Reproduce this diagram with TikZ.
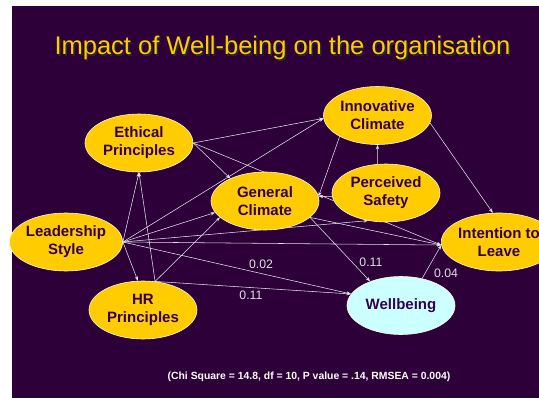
\documentclass[tikz,border=0pt]{standalone}
\usepackage{fontspec}
\setmainfont{Liberation Sans}
\usetikzlibrary{shapes.geometric,arrows.meta}
\definecolor{plum}{RGB}{45,0,58}
\definecolor{gold}{RGB}{255,204,0}
\definecolor{ink}{RGB}{51,0,85}
\definecolor{ice}{RGB}{204,255,255}
\definecolor{wire}{RGB}{225,225,232}
\pgfdeclarelayer{back}
\pgfdeclarelayer{lines}
\pgfsetlayers{back,lines,main}
\begin{document}
\begin{tikzpicture}[x=1pt,y=-1pt,
  factor/.style={ellipse, fill=gold, draw=white!85!gold, line width=0.6pt,
    minimum width=108pt, minimum height=58pt, inner sep=0pt, align=center,
    font=\fontsize{15}{18}\selectfont\bfseries, text=ink},
  outcome/.style={factor, fill=ice},
  link/.style={draw=wire, line width=0.55pt, -{Stealth[length=4.5pt,width=3.2pt]}},
  coef/.style={font=\fontsize{12.3}{14}\selectfont, text=white!88!black, inner sep=0pt},
  heading/.style={font=\fontsize{25.5}{30}\selectfont, anchor=base, inner sep=0pt}]

\useasboundingbox (0,0) rectangle (539,398);
\clip (0,0) rectangle (539,398);

\begin{pgfonlayer}{back}
  \fill[white] (0,0) rectangle (539,398);
  \fill[plum] (12,6) rectangle (539,398);
\end{pgfonlayer}

% title with its drop shadow
\node[heading, text=black!85] (titleshadow) at (284,56.5) {Impact of Well-being on the organisation};
\node[heading, text=gold] (title) at (282.5,55) {Impact of Well-being on the organisation};

% constructs of the model
\node[factor]  (ep)  at (139,143)   {Ethical\\Principles};
\node[factor]  (ic)  at (377.5,115.5) {Innovative\\Climate};
\node[factor]  (ps)  at (386,193)   {Perceived\\Safety};
\node[factor]  (gc)  at (265,201)   {General\\Climate};
\node[factor]  (ls)  at (66,242)    {Leadership\\Style};
\node[factor]  (hr)  at (143,310)   {HR\\Principles};
\node[factor]  (itl) at (499,242)   {Intention to\\Leave};
\node[outcome] (wb)  at (401,305.5) {Wellbeing};

% paths between constructs
\begin{pgfonlayer}{lines}
  \draw[link] (ls.east) -- (ep.south);
  \draw[link] (hr.67)   -- (ep.south);
  \draw[link] (ls.east) -- (hr.100);
  \draw[link] (ls.east) -- (gc.193);
  \draw[link] (hr.67)   -- (gc.200);
  \draw[link] (ls.east) -- (ic.183);
  \draw[link] (ep.east) -- (ic.183);
  \draw[link] (ep.east) -- (gc.147);
  \draw[link] (ep.east) -- (itl.183);
  \draw[link] (ls.east) -- (ps.237);
  \draw[link] (ls.east) -- (itl.183);
  \draw[link] (ls.east) -- (wb.167);
  \draw[link] (hr.67)   -- (wb.167);
  \draw[link] (gc.-20)  -- (wb.142);
  \draw[link] (gc.-20)  -- (itl.183);
  \draw[link] (ic.209)  -- (gc.5);
  \draw[link] (ps.184)  -- (gc.5);
  \draw[link] (ps.106)  -- (ic.south);
  \draw[link] (ic.-8)   -- (itl.102);
  \draw[link] (wb.52)   -- (itl.183);
\end{pgfonlayer}

% path coefficients
\node[coef] (c1) at (261,264) {0.02};
\node[coef] (c2) at (251,295) {0.11};
\node[coef] (c3) at (371,262) {0.11};
\node[coef] (c4) at (446,273) {0.04};

% fit statistics
\node[font=\fontsize{10.4}{12}\selectfont\bfseries, text=white, inner sep=0pt] (fit) at (309,377)
  {(Chi Square = 14.8, df = 10, P value = .14, RMSEA = 0.004)};
\end{tikzpicture}
\end{document}
